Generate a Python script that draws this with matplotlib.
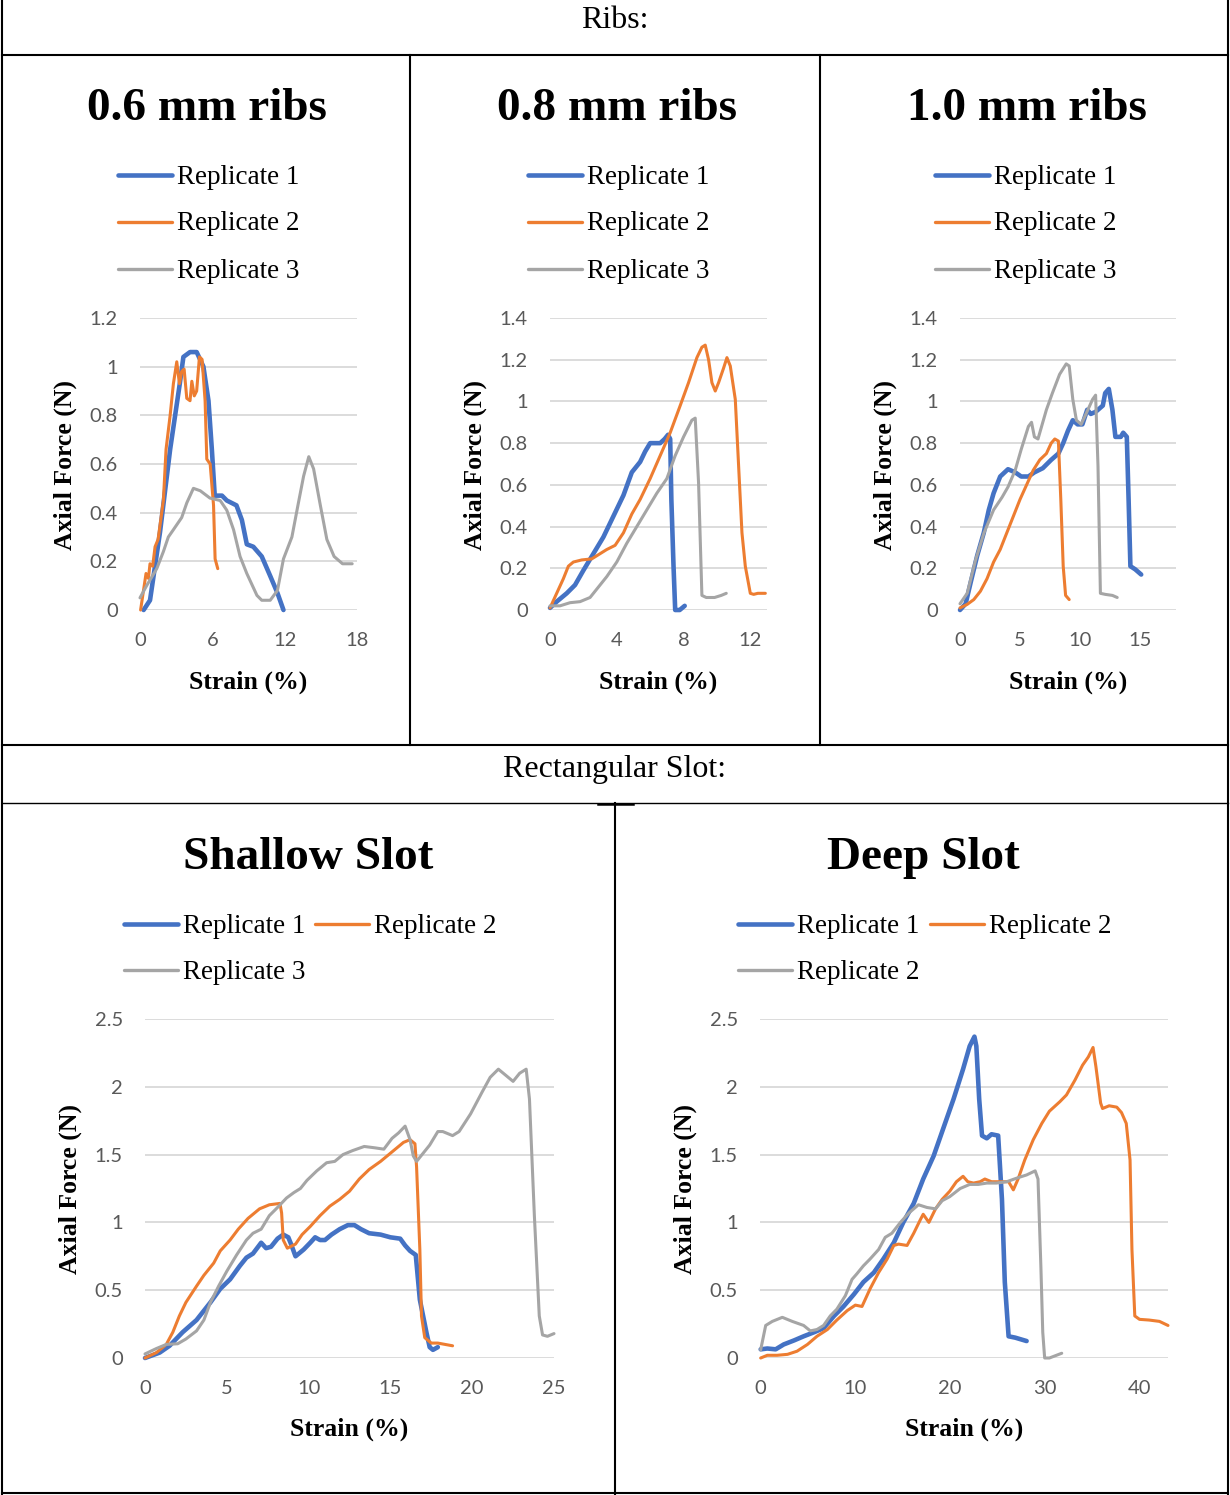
import matplotlib
matplotlib.use("Agg")
import matplotlib.pyplot as plt
from matplotlib.lines import Line2D

# ---- data (strain %, axial force N) ----
# 0.6 mm ribs
r06_x1 = [0.3, 0.83, 1.66, 2.5, 3.3, 3.6, 4.15, 4.7, 5.26, 5.68, 5.96, 6.2, 6.8, 7.2, 8.0, 8.45, 8.86, 9.4, 10.1, 10.8, 11.4, 11.9]
r06_y1 = [0.0, 0.04, 0.32, 0.66, 0.93, 1.04, 1.06, 1.06, 1.0, 0.86, 0.66, 0.47, 0.47, 0.45, 0.43, 0.37, 0.27, 0.26, 0.22, 0.14, 0.07, 0.0]
r06_x2 = [0.05, 0.5, 0.7, 0.83, 1.05, 1.25, 1.5, 1.94, 2.16, 2.5, 2.77, 3.05, 3.27, 3.46, 3.66, 3.88, 4.15, 4.3, 4.5, 4.7, 4.93, 5.15, 5.4, 5.54, 5.82, 6.1, 6.23, 6.45]
r06_y2 = [0.0, 0.15, 0.13, 0.19, 0.18, 0.26, 0.29, 0.45, 0.66, 0.8, 0.93, 1.02, 0.93, 0.98, 0.99, 0.87, 0.86, 0.94, 0.88, 0.9, 1.04, 1.03, 0.86, 0.62, 0.6, 0.43, 0.21, 0.17]
r06_x3 = [0.0, 0.55, 1.39, 1.94, 2.35, 2.77, 3.46, 3.88, 4.43, 5.0, 5.8, 6.65, 7.2, 7.76, 8.3, 8.86, 9.7, 10.1, 10.8, 11.4, 11.9, 12.6, 13.1, 13.57, 14.0, 14.4, 14.96, 15.5, 16.1, 16.8, 17.6]
r06_y3 = [0.05, 0.1, 0.17, 0.24, 0.3, 0.33, 0.38, 0.44, 0.5, 0.49, 0.46, 0.45, 0.41, 0.33, 0.22, 0.15, 0.06, 0.04, 0.04, 0.08, 0.21, 0.3, 0.43, 0.55, 0.63, 0.58, 0.43, 0.29, 0.22, 0.19, 0.19]

# 0.8 mm ribs
r08_x1 = [0, 0.4, 1.0, 1.5, 2.0, 2.6, 3.2, 3.8, 4.4, 4.9, 5.4, 5.7, 6.0, 6.6, 6.87, 7.07, 7.2, 7.27, 7.4, 7.5, 7.77, 8.07]
r08_y1 = [0.01, 0.04, 0.08, 0.12, 0.19, 0.27, 0.35, 0.45, 0.55, 0.66, 0.71, 0.76, 0.8, 0.8, 0.82, 0.84, 0.82, 0.53, 0.21, 0.0, 0.0, 0.02]
r08_x2 = [0, 0.4, 0.8, 1.1, 1.4, 1.9, 2.5, 3.0, 3.4, 3.9, 4.4, 4.9, 5.4, 6.0, 6.6, 7.2, 7.8, 8.3, 8.8, 9.1, 9.3, 9.5, 9.7, 9.9, 10.1, 10.4, 10.6, 10.8, 11.1, 11.3, 11.5, 11.7, 12.0, 12.2, 12.45, 12.9]
r08_y2 = [0.01, 0.08, 0.15, 0.21, 0.23, 0.24, 0.245, 0.27, 0.29, 0.31, 0.37, 0.46, 0.53, 0.63, 0.74, 0.85, 0.98, 1.09, 1.21, 1.26, 1.27, 1.2, 1.09, 1.05, 1.09, 1.16, 1.21, 1.17, 1.01, 0.69, 0.37, 0.21, 0.08, 0.075, 0.08, 0.08]
r08_x3 = [0, 0.6, 1.2, 1.8, 2.4, 2.8, 3.4, 4.0, 4.6, 5.2, 5.8, 6.4, 7.0, 7.5, 8.0, 8.5, 8.7, 8.9, 9.1, 9.36, 9.86, 10.26, 10.56]
r08_y3 = [0.02, 0.02, 0.035, 0.04, 0.06, 0.1, 0.16, 0.23, 0.32, 0.4, 0.48, 0.56, 0.63, 0.74, 0.83, 0.91, 0.92, 0.61, 0.07, 0.06, 0.06, 0.07, 0.08]

# 1.0 mm ribs
r10_x1 = [0, 0.47, 0.88, 1.43, 1.98, 2.4, 2.8, 3.35, 4.0, 4.6, 5.1, 5.7, 6.2, 6.9, 7.6, 8.2, 8.6, 9.0, 9.4, 9.8, 10.2, 10.6, 10.9, 11.3, 11.9, 12.1, 12.4, 12.7, 12.95, 13.4, 13.6, 13.9, 14.05, 14.2, 14.6, 15.1]
r10_y1 = [0.0, 0.03, 0.13, 0.26, 0.37, 0.48, 0.56, 0.64, 0.675, 0.66, 0.64, 0.64, 0.66, 0.68, 0.72, 0.75, 0.8, 0.86, 0.91, 0.89, 0.89, 0.96, 0.94, 0.95, 0.98, 1.04, 1.06, 0.96, 0.83, 0.83, 0.85, 0.83, 0.53, 0.21, 0.195, 0.17]
r10_x2 = [0, 0.6, 1.15, 1.7, 2.25, 2.8, 3.35, 3.9, 4.45, 5.0, 5.55, 6.1, 6.65, 7.2, 7.6, 7.9, 8.2, 8.4, 8.6, 8.8, 9.1]
r10_y2 = [0.01, 0.027, 0.05, 0.09, 0.15, 0.23, 0.29, 0.37, 0.45, 0.53, 0.6, 0.67, 0.72, 0.75, 0.8, 0.82, 0.81, 0.53, 0.21, 0.07, 0.05]
r10_x3 = [0, 0.6, 1.3, 2.0, 2.8, 3.5, 4.0, 4.6, 5.1, 5.7, 5.96, 6.2, 6.5, 7.2, 7.7, 8.3, 8.85, 9.1, 9.4, 9.7, 10.1, 10.5, 11.05, 11.3, 11.5, 11.7, 12.1, 12.7, 13.1]
r10_y3 = [0.03, 0.08, 0.24, 0.37, 0.48, 0.54, 0.59, 0.67, 0.77, 0.88, 0.9, 0.83, 0.82, 0.96, 1.04, 1.13, 1.18, 1.17, 1.01, 0.91, 0.89, 0.94, 1.01, 1.03, 0.69, 0.08, 0.075, 0.07, 0.06]

# Shallow slot
sh_x1 = [0, 0.9, 1.5, 2.3, 3.15, 4.0, 4.6, 5.2, 5.8, 6.2, 6.6, 7.1, 7.4, 7.7, 8.1, 8.45, 8.76, 8.96, 9.2, 9.7, 10.1, 10.4, 10.7, 11.0, 11.4, 11.9, 12.4, 12.8, 13.2, 13.7, 14.4, 15.0, 15.6, 15.9, 16.2, 16.55, 16.8, 17.2, 17.4, 17.6, 17.9]
sh_y1 = [0.0, 0.04, 0.09, 0.19, 0.28, 0.41, 0.51, 0.58, 0.68, 0.74, 0.77, 0.85, 0.81, 0.82, 0.88, 0.91, 0.89, 0.83, 0.75, 0.8, 0.85, 0.89, 0.87, 0.87, 0.91, 0.95, 0.98, 0.98, 0.95, 0.92, 0.91, 0.89, 0.88, 0.83, 0.79, 0.76, 0.43, 0.19, 0.08, 0.06, 0.08]
sh_x2 = [0, 0.7, 1.3, 1.7, 2.1, 2.5, 3.15, 3.6, 4.2, 4.6, 5.2, 5.7, 6.3, 7.0, 7.6, 8.25, 8.35, 8.45, 8.7, 9.2, 9.6, 10.1, 10.7, 11.3, 11.9, 12.5, 13.1, 13.7, 14.4, 14.9, 15.4, 15.8, 16.2, 16.5, 16.6, 16.8, 16.9, 17.1, 17.5, 17.9, 18.8]
sh_y2 = [0.0, 0.04, 0.1, 0.19, 0.31, 0.41, 0.53, 0.61, 0.7, 0.79, 0.87, 0.95, 1.03, 1.1, 1.13, 1.14, 1.07, 0.87, 0.81, 0.84, 0.91, 0.97, 1.05, 1.12, 1.17, 1.23, 1.32, 1.39, 1.45, 1.5, 1.55, 1.59, 1.61, 1.58, 1.41, 0.8, 0.31, 0.15, 0.11, 0.11, 0.09]
sh_x3 = [0, 0.7, 1.3, 2.0, 2.5, 3.15, 3.6, 4.0, 4.5, 5.0, 5.6, 6.2, 6.6, 7.1, 7.6, 8.1, 8.65, 9.1, 9.5, 9.9, 10.5, 11.1, 11.6, 12.1, 12.7, 13.4, 14.05, 14.6, 15.1, 15.5, 15.9, 16.2, 16.4, 16.6, 17.0, 17.4, 17.9, 18.2, 18.8, 19.2, 19.9, 20.6, 21.1, 21.6, 22.0, 22.5, 22.9, 23.3, 23.5, 23.8, 24.1, 24.3, 24.6, 25.0]
sh_y3 = [0.03, 0.07, 0.1, 0.105, 0.14, 0.2, 0.28, 0.41, 0.53, 0.64, 0.76, 0.87, 0.92, 0.95, 1.05, 1.11, 1.18, 1.22, 1.25, 1.31, 1.38, 1.44, 1.45, 1.5, 1.53, 1.56, 1.55, 1.54, 1.62, 1.66, 1.71, 1.61, 1.49, 1.45, 1.51, 1.57, 1.67, 1.67, 1.64, 1.67, 1.8, 1.96, 2.07, 2.13, 2.09, 2.04, 2.1, 2.13, 1.91, 1.05, 0.31, 0.17, 0.16, 0.18]

# Deep slot
dp_x1 = [0.07, 0.77, 1.65, 2.5, 3.6, 4.6, 5.7, 6.7, 7.8, 8.8, 9.9, 10.9, 12.0, 13.0, 14.1, 15.1, 16.2, 17.2, 18.3, 19.3, 20.4, 21.4, 22.1, 22.6, 22.8, 23.1, 23.4, 23.9, 24.4, 25.1, 25.5, 25.8, 26.2, 26.9, 28.1]
dp_y1 = [0.064, 0.07, 0.064, 0.1, 0.13, 0.16, 0.19, 0.22, 0.31, 0.38, 0.47, 0.56, 0.63, 0.73, 0.85, 1.0, 1.14, 1.32, 1.49, 1.69, 1.91, 2.13, 2.3, 2.37, 2.3, 1.91, 1.64, 1.62, 1.65, 1.64, 1.17, 0.56, 0.16, 0.15, 0.125]
dp_x2 = [0.07, 0.77, 1.8, 2.9, 3.9, 5.0, 6.0, 7.1, 8.1, 9.2, 10.05, 10.75, 11.6, 12.5, 13.4, 14.1, 14.6, 15.5, 16.2, 16.9, 17.2, 17.8, 18.5, 19.2, 20.0, 20.7, 21.4, 21.9, 22.5, 23.2, 23.7, 24.4, 25.3, 26.2, 26.7, 27.2, 27.9, 28.8, 29.7, 30.5, 31.6, 32.3, 33.2, 34.0, 34.6, 35.1, 35.4, 35.9, 36.1, 36.8, 37.6, 38.1, 38.6, 39.0, 39.2, 39.5, 40.0, 41.0, 42.1, 43.0]
dp_y2 = [0.0, 0.02, 0.02, 0.027, 0.05, 0.1, 0.16, 0.21, 0.28, 0.35, 0.39, 0.38, 0.51, 0.63, 0.73, 0.83, 0.84, 0.83, 0.92, 1.02, 1.06, 1.0, 1.1, 1.17, 1.23, 1.3, 1.34, 1.3, 1.29, 1.3, 1.32, 1.3, 1.3, 1.3, 1.24, 1.32, 1.46, 1.61, 1.73, 1.82, 1.89, 1.94, 2.05, 2.16, 2.22, 2.29, 2.15, 1.88, 1.84, 1.86, 1.85, 1.81, 1.73, 1.46, 0.8, 0.31, 0.285, 0.28, 0.27, 0.24]
dp_x3 = [0.07, 0.6, 1.3, 2.35, 3.4, 4.6, 5.3, 6.0, 6.7, 7.4, 8.1, 9.0, 9.7, 10.2, 10.9, 11.6, 12.5, 13.2, 13.9, 14.8, 15.7, 16.7, 17.6, 18.5, 19.2, 20.0, 21.1, 22.1, 23.0, 23.9, 24.9, 26.0, 27.2, 28.1, 29.0, 29.3, 29.6, 29.8, 30.0, 30.5, 31.8]
dp_y3 = [0.06, 0.24, 0.27, 0.3, 0.27, 0.24, 0.2, 0.21, 0.24, 0.31, 0.36, 0.46, 0.58, 0.62, 0.68, 0.73, 0.8, 0.89, 0.92, 1.0, 1.07, 1.13, 1.11, 1.1, 1.16, 1.19, 1.25, 1.28, 1.28, 1.29, 1.29, 1.3, 1.33, 1.35, 1.38, 1.32, 0.68, 0.19, 0.0, 0.0, 0.035]

# colours (Office palette)
BLUE = '#4472C4'
ORANGE = '#ED7D31'
GRAY = '#A5A5A5'
TICK_COL = '#595959'
GRID_COL = '#D9D9D9'

SERIF = ['Liberation Serif', 'DejaVu Serif']
SANS = ['Lato', 'DejaVu Sans']

W, H = 1230, 1495
fig = plt.figure(figsize=(W / 100, H / 100), dpi=100)
fig.patch.set_facecolor('white')


def fx(px):
    return px / W


def fy(py):
    return 1 - py / H


def hline(x0, x1, y, lw=1.5):
    fig.add_artist(Line2D([fx(x0), fx(x1)], [fy(y), fy(y)], color='black', lw=lw, transform=fig.transFigure))


def vline(x, y0, y1, lw=1.5):
    fig.add_artist(Line2D([fx(x), fx(x)], [fy(y0), fy(y1)], color='black', lw=lw, transform=fig.transFigure))


# table borders
vline(2, 0, 1494)
vline(1228, 0, 1494)
hline(2, 1228, 55)
vline(410, 55, 745)
vline(820, 55, 745)
hline(2, 1228, 745)
hline(2, 1228, 803, lw=1.0)
hline(598, 633, 803.5, lw=1.8)
vline(615, 803, 1494)
hline(2, 1228, 1493)

fig.text(fx(615), fy(21), 'Ribs:', family=SERIF, fontsize=23, ha='center', va='center')
fig.text(fx(615), fy(770), 'Rectangular Slot:', family=SERIF, fontsize=23, ha='center', va='center')


def legend_entry(x0, y, label):
    col, lw = {'1': (BLUE, 3.3), '2': (ORANGE, 2.4), '3': (GRAY, 2.4)}[label[0]]
    fig.add_artist(Line2D([fx(x0), fx(x0 + 54)], [fy(y), fy(y)], color=col, lw=lw,
                          solid_capstyle='round', transform=fig.transFigure))
    fig.text(fx(x0 + 59), fy(y + 2), label[1:], family=SERIF, fontsize=19.5, ha='left', va='center')


def panel(rect, xs, ys, xlim, xticks, ylim, yticks, title, tcx, tcy, legend, ylab_x, xlab_y):
    l, t, r, b = rect
    ax = fig.add_axes([fx(l), fy(b), (r - l) / W, (b - t) / H])
    series = [(xs[0], ys[0], BLUE, 3.3), (xs[1], ys[1], ORANGE, 2.2), (xs[2], ys[2], GRAY, 2.2)]
    for sx, sy, col, lw in series:
        ax.plot(sx, sy, color=col, lw=lw, solid_joinstyle='round', solid_capstyle='round', clip_on=False, zorder=3)
    ax.set_xlim(*xlim)
    ax.set_ylim(*ylim)
    ax.set_xticks(xticks)
    ax.set_yticks(yticks)
    ax.set_xticklabels([f'{v:g}' for v in xticks])
    ax.set_yticklabels([f'{v:g}' for v in yticks])
    for s in ax.spines.values():
        s.set_visible(False)
    ax.grid(axis='y', color=GRID_COL, lw=1.3, zorder=0)
    ax.set_axisbelow(True)
    ax.tick_params(length=0, pad=16, labelsize=14.5, colors=TICK_COL)
    for lab in ax.get_xticklabels() + ax.get_yticklabels():
        lab.set_family(SANS)
    fig.text(fx(tcx), fy(tcy), title, family=SERIF, fontweight='bold', fontsize=34, ha='center', va='center')
    for x0, y, lab in legend:
        legend_entry(x0, y, lab)
    fig.text(fx(ylab_x), fy((t + b) / 2 + 1), 'Axial Force (N)', family=SERIF, fontweight='bold',
             fontsize=18.5, rotation=90, ha='center', va='center')
    fig.text(fx((l + r) / 2), fy(xlab_y), 'Strain (%)', family=SERIF, fontweight='bold',
             fontsize=18.5, ha='center', va='center')
    return ax


panel((140, 318, 357, 610), [r06_x1, r06_x2, r06_x3], [r06_y1, r06_y2, r06_y3],
      (0, 18), [0, 6, 12, 18], (0, 1.2), [0, 0.2, 0.4, 0.6, 0.8, 1.0, 1.2],
      '0.6 mm ribs', 207, 109,
      [(118, 175, '1Replicate 1'), (118, 222, '2Replicate 2'), (118, 269, '3Replicate 3')], 65, 682)

panel((550, 318, 767, 610), [r08_x1, r08_x2, r08_x3], [r08_y1, r08_y2, r08_y3],
      (0, 13), [0, 4, 8, 12], (0, 1.4), [0, 0.2, 0.4, 0.6, 0.8, 1.0, 1.2, 1.4],
      '0.8 mm ribs', 617, 109,
      [(528, 175, '1Replicate 1'), (528, 222, '2Replicate 2'), (528, 269, '3Replicate 3')], 475, 682)

panel((960, 318, 1176, 610), [r10_x1, r10_x2, r10_x3], [r10_y1, r10_y2, r10_y3],
      (0, 18), [0, 5, 10, 15], (0, 1.4), [0, 0.2, 0.4, 0.6, 0.8, 1.0, 1.2, 1.4],
      '1.0 mm ribs', 1027, 109,
      [(935, 175, '1Replicate 1'), (935, 222, '2Replicate 2'), (935, 269, '3Replicate 3')], 885, 682)

panel((145, 1019, 554, 1358), [sh_x1, sh_x2, sh_x3], [sh_y1, sh_y2, sh_y3],
      (0, 25), [0, 5, 10, 15, 20, 25], (0, 2.5), [0, 0.5, 1.0, 1.5, 2.0, 2.5],
      'Shallow Slot', 308, 858,
      [(124, 924, '1Replicate 1'), (315, 924, '2Replicate 2'), (124, 970, '3Replicate 3')], 70, 1429)

panel((760, 1019, 1168, 1358), [dp_x1, dp_x2, dp_x3], [dp_y1, dp_y2, dp_y3],
      (0, 43), [0, 10, 20, 30, 40], (0, 2.5), [0, 0.5, 1.0, 1.5, 2.0, 2.5],
      'Deep Slot', 923, 858,
      [(738, 924, '1Replicate 1'), (930, 924, '2Replicate 2'), (738, 970, '3Replicate 2')], 685, 1429)

fig.savefig('out.png', dpi=100, facecolor='white')
